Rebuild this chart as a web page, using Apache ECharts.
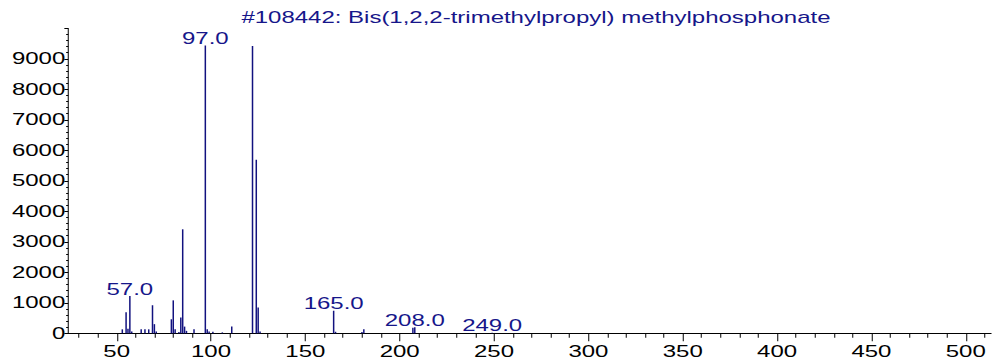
<!DOCTYPE html>
<html>
<head>
<meta charset="utf-8">
<script src="https://cdn.jsdelivr.net/npm/echarts@6/dist/echarts.min.js"></script>
<style>
  html, body { margin: 0; padding: 0; background: #fff; overflow: hidden; }
  #wrap { width: 992px; height: 360px; overflow: hidden; }
  /* the plot is laid out narrow and stretched 1.5x horizontally, giving the wide lettering */
  #chart { width: 661.33px; height: 360px; transform: scaleX(1.5); transform-origin: 0 0; }
</style>
</head>
<body>
<div id="wrap"><div id="chart"></div></div>
<script>
// Mass spectrum: m/z and relative abundance
const chartTitle = '#108442: Bis(1,2,2-trimethylpropyl) methylphosphonate';

const mz = [53, 55, 56, 57, 58, 63, 65, 67, 69, 70, 71,
            79, 80, 81, 83, 84, 85, 86, 87, 91,
            97, 98, 99, 101, 106, 111,
            122, 124, 125, 126,
            165, 166, 180, 181, 207, 208, 249];

const intensity = [130, 690, 150, 1220, 60, 130, 130, 130, 920, 300, 60,
                   460, 1080, 130, 40, 520, 3410, 220, 80, 130,
                   9440, 130, 60, 50, 30, 220,
                   9420, 5690, 850, 60,
                   740, 50, 40, 130, 180, 200, 20];

// peaks annotated with their m/z
const labeledPeaks = [57, 97, 165, 208, 249];

// x axis ticks
const xLabelTicks = [50, 100, 150, 200, 250, 300, 350, 400, 450, 500];
const xMinorTicks = [30, 40, 60, 70, 80, 90, 110, 120, 130, 140, 160, 170, 180, 190,
                     210, 220, 230, 240, 260, 270, 280, 290, 310, 320, 330, 340,
                     360, 370, 380, 390, 410, 420, 430, 440, 460, 470, 480, 490, 510];

const navy = '#16168a';
const barColor = '#12127f';
const fontFamily = '"Liberation Sans", Arial, Helvetica, sans-serif';

const chart = echarts.init(document.getElementById('chart'), null, {
  renderer: 'svg', width: 661.33, height: 360
});

const barData = mz.map((m, i) => {
  const item = { value: [m, intensity[i]] };
  if (labeledPeaks.includes(m)) item.label = { show: true };
  return item;
});

chart.setOption({
  animation: false,
  backgroundColor: '#fff',
  title: {
    text: chartTitle,
    left: 357.3,
    textAlign: 'center',
    top: 10,
    padding: 0,
    textStyle: { fontSize: 16, fontWeight: 'normal', color: navy, fontFamily: fontFamily }
  },
  grid: { left: 45.5, right: 0, top: 28.3, bottom: 26.7 },
  xAxis: [
    {
      type: 'value',
      min: 24.35,
      max: 513.9,
      axisLine: { lineStyle: { color: '#000', width: 1 } },
      axisTick: { customValues: xLabelTicks, length: 8, lineStyle: { color: '#000', width: 0.667 } },
      axisLabel: { customValues: xLabelTicks, fontSize: 16, color: '#000', margin: 10, fontFamily: fontFamily },
      splitLine: { show: false }
    },
    {
      type: 'value',
      min: 24.35,
      max: 513.9,
      position: 'bottom',
      axisLine: { show: false },
      axisTick: { customValues: xMinorTicks, length: 4.5, lineStyle: { color: '#000', width: 0.667 } },
      axisLabel: { show: false },
      splitLine: { show: false }
    }
  ],
  yAxis: {
    type: 'value',
    min: 0,
    max: 10000,
    interval: 1000,
    axisLine: { show: true, lineStyle: { color: '#000', width: 0.667 } },
    axisTick: { show: true, length: 2.6, lineStyle: { color: '#000', width: 1 } },
    minorTick: { show: true, splitNumber: 5, length: 1.4, lineStyle: { color: '#000', width: 1 } },
    axisLabel: {
      fontSize: 16, color: '#000', margin: 2, fontFamily: fontFamily,
      formatter: v => (v >= 10000 ? '' : String(v))
    },
    splitLine: { show: false }
  },
  series: [{
    type: 'bar',
    xAxisIndex: 0,
    yAxisIndex: 0,
    barWidth: 0.75,
    data: barData,
    itemStyle: { color: barColor },
    label: {
      show: false,
      position: 'top',
      distance: -1,
      fontSize: 16,
      color: navy,
      fontFamily: fontFamily,
      formatter: p => p.value[0].toFixed(1)
    }
  }]
});
</script>
</body>
</html>
